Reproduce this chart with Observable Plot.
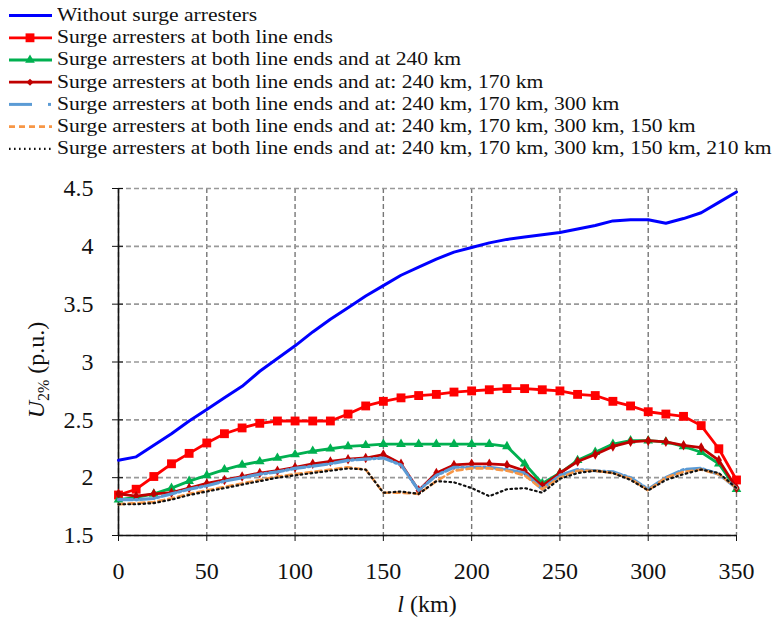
<!DOCTYPE html>
<html><head><meta charset="utf-8">
<script src="https://cdn.jsdelivr.net/npm/d3@7"></script>
<script src="https://cdn.jsdelivr.net/npm/@observablehq/plot@0.6"></script>
<style>
body{margin:0;background:#fff;font-family:'Times New Roman';}
.row{height:22.2px;line-height:22.2px;font-size:18.5px;white-space:nowrap;color:#111;font-family:'Times New Roman';}
</style></head><body>
<div id="wrap" style="position:relative;width:774px;height:619px;overflow:hidden;font-family:'Times New Roman'">
<svg id="sw" width="56" height="160" style="position:absolute;left:0;top:4px"></svg>
<div id="lt" style="position:absolute;left:57px;top:4px;transform-origin:0 0;font-family:'Times New Roman'"></div>
<div id="chart" style="position:absolute;left:0;top:160px;font-family:'Times New Roman'"></div>
</div>
<script>
const SERIF = "Times New Roman";
// distance along line (km)
const km = [0,10,20,30,40,50,60,70,80,90,100,110,120,130,140,150,160,170,180,190,200,210,220,230,240,250,260,270,280,290,300,310,320,330,340,350];
const xTicks = [0,50,100,150,200,250,300,350];
const yTicks = [1.5,2,2.5,3,3.5,4,4.5];

const labels = [
  "Without surge arresters",
  "Surge arresters at both line ends",
  "Surge arresters at both line ends and at 240 km",
  "Surge arresters at both line ends and at: 240 km, 170 km",
  "Surge arresters at both line ends and at: 240 km, 170 km, 300 km",
  "Surge arresters at both line ends and at: 240 km, 170 km, 300 km, 150 km",
  "Surge arresters at both line ends and at: 240 km, 170 km, 300 km, 150 km, 210 km"
];

const noArr   = [2.15,2.18,2.28,2.38,2.49,2.59,2.69,2.79,2.92,3.03,3.14,3.26,3.37,3.47,3.57,3.66,3.75,3.82,3.89,3.95,3.99,4.03,4.06,4.08,4.10,4.12,4.15,4.18,4.22,4.23,4.23,4.20,4.24,4.29,4.38,4.47];
const ends    = [1.85,1.90,2.01,2.12,2.21,2.30,2.38,2.43,2.47,2.49,2.49,2.49,2.49,2.55,2.62,2.66,2.69,2.71,2.72,2.74,2.75,2.76,2.77,2.77,2.76,2.75,2.72,2.71,2.66,2.62,2.57,2.55,2.53,2.45,2.25,1.98];
const at240   = [1.81,1.83,1.86,1.91,1.97,2.02,2.07,2.11,2.14,2.17,2.20,2.23,2.25,2.27,2.28,2.29,2.29,2.29,2.29,2.29,2.29,2.29,2.27,2.12,1.95,2.04,2.15,2.22,2.29,2.32,2.32,2.31,2.27,2.22,2.12,1.90];
const at170   = [1.86,1.84,1.86,1.87,1.91,1.95,1.98,2.01,2.04,2.06,2.09,2.12,2.14,2.16,2.17,2.20,2.12,1.89,2.04,2.11,2.12,2.12,2.11,2.06,1.93,2.04,2.14,2.20,2.27,2.31,2.32,2.31,2.28,2.26,2.15,1.91];
const at300   = [1.81,1.81,1.82,1.86,1.90,1.93,1.97,2.00,2.03,2.05,2.08,2.10,2.12,2.15,2.16,2.17,2.11,1.89,2.02,2.09,2.09,2.09,2.07,2.04,1.90,2.02,2.07,2.06,2.05,2.00,1.90,2.00,2.07,2.08,2.03,1.91];
const at150   = [1.77,1.78,1.79,1.82,1.86,1.89,1.92,1.95,1.98,2.01,2.03,2.05,2.07,2.09,2.07,1.87,1.87,1.86,1.97,2.06,2.08,2.08,2.06,2.02,1.90,2.00,2.06,2.06,2.04,1.99,1.89,2.00,2.05,2.07,2.03,1.91];
const at210   = [1.77,1.77,1.78,1.81,1.85,1.88,1.91,1.94,1.97,2.00,2.02,2.04,2.06,2.08,2.07,1.87,1.88,1.86,1.97,1.96,1.91,1.84,1.90,1.91,1.87,1.99,2.04,2.06,2.04,1.98,1.89,1.98,2.03,2.07,2.04,1.91];

const colors = ["#0000ff","#ff0000","#00b050","#c00000","#5b9bd5","#f79646","#111111"];
const widths = [3,2.8,2.8,2.8,3.2,2.6,2.2];
const dashes = [null,null,null,null,"14,3,2,3","6,4","1.6,3.4"];
const symbols = [null,"square","triangle","diamond",null,null,null];
const symR = [0,5,3.6,3.2,0,0,0];
const values = [noArr,ends,at240,at170,at300,at150,at210];

const marks = [
  Plot.gridX(xTicks,{stroke:"#777",strokeOpacity:1,strokeWidth:1.4,strokeDasharray:"5,3"}),
  Plot.gridY(yTicks,{stroke:"#999",strokeOpacity:1,strokeWidth:1.6,strokeDasharray:"5,3"}),
  Plot.axisX(xTicks,{tickSize:6,tickPadding:20,tickFormat:d=>String(d),label:null,fontSize:24,fontFamily:SERIF}),
  Plot.axisY(yTicks,{tickSize:6,tickPadding:19,tickFormat:d=>String(d),label:null,fontSize:24,fontFamily:SERIF}),
  Plot.axisY(yTicks,{tickSize:-5,tickFormat:()=>null,label:null}),
  Plot.ruleX([0],{stroke:"#111",strokeWidth:1.6}),
  Plot.ruleY([1.5],{stroke:"#111",strokeWidth:1.6})
];
values.forEach((vals,s)=>{
  const data = km.map((x,i)=>({x, y:vals[i]}));
  marks.push(Plot.line(data,{x:"x",y:"y",stroke:colors[s],strokeWidth:widths[s],strokeDasharray:dashes[s],strokeLinejoin:"round"}));
  if (symbols[s]) marks.push(Plot.dot(data,{x:"x",y:"y",symbol:()=>symbols[s],r:symR[s],fill:colors[s],stroke:"none"}));
});

const chart = Plot.plot({
  width:774, height:459,
  marginTop:28, marginLeft:118, marginRight:38, marginBottom:84,
  x:{domain:[0,350]},
  y:{domain:[1.5,4.5]},
  style:{fontFamily:SERIF,fontSize:"24px",color:"#111",background:"#fff",overflow:"visible"},
  marks
});
document.getElementById("chart").appendChild(chart);

const svg = d3.select(chart);
// y axis title with subscript
const yt = svg.append("text")
  .attr("transform","translate(44,210) rotate(-90)")
  .attr("text-anchor","middle").attr("fill","#111")
  .attr("font-family",SERIF).attr("font-size",24);
yt.append("tspan").attr("font-style","italic").text("U");
yt.append("tspan").attr("font-size",16).attr("dy","5").text("2%");
yt.append("tspan").attr("dy","-5").text(" (p.u.)");
// x axis title
const xt = svg.append("text")
  .attr("x",427).attr("y",452)
  .attr("text-anchor","middle").attr("fill","#111")
  .attr("font-family",SERIF).attr("font-size",24);
xt.append("tspan").attr("font-style","italic").text("l");
xt.append("tspan").text(" (km)");
chart.querySelectorAll("text").forEach(t=>t.style.setProperty("font-family","'Times New Roman'","important"));

// legend
const sw = d3.select("#sw");
const lt = document.getElementById("lt");
labels.forEach((lab,s)=>{
  const d = document.createElement("div"); d.className="row"; d.textContent=lab;
  d.style.setProperty("font-family","'Times New Roman'","important");
  lt.appendChild(d);
  const cy = 22.2*s + 11.6;
  if (s===4){
    sw.append("line").attr("x1",9).attr("x2",32).attr("y1",cy).attr("y2",cy).attr("stroke",colors[s]).attr("stroke-width",3);
    sw.append("line").attr("x1",48).attr("x2",51).attr("y1",cy).attr("y2",cy).attr("stroke",colors[s]).attr("stroke-width",3);
  } else {
    sw.append("line").attr("x1",9).attr("x2",52).attr("y1",cy).attr("y2",cy)
      .attr("stroke",colors[s]).attr("stroke-width",widths[s]).attr("stroke-dasharray",dashes[s]);
  }
  if (symbols[s]){
    const sym = {square:d3.symbolSquare,triangle:d3.symbolTriangle,diamond:d3.symbolDiamond2}[symbols[s]];
    sw.append("path").attr("transform",`translate(30,${cy})`).attr("d",d3.symbol(sym, Math.PI*symR[s]*symR[s])()).attr("fill",colors[s]);
  }
});
const w = Math.max(...Array.from(lt.children).map(c=>c.scrollWidth));
lt.style.transform = `scaleX(${(772-57)/w})`;
</script>
</body></html>
